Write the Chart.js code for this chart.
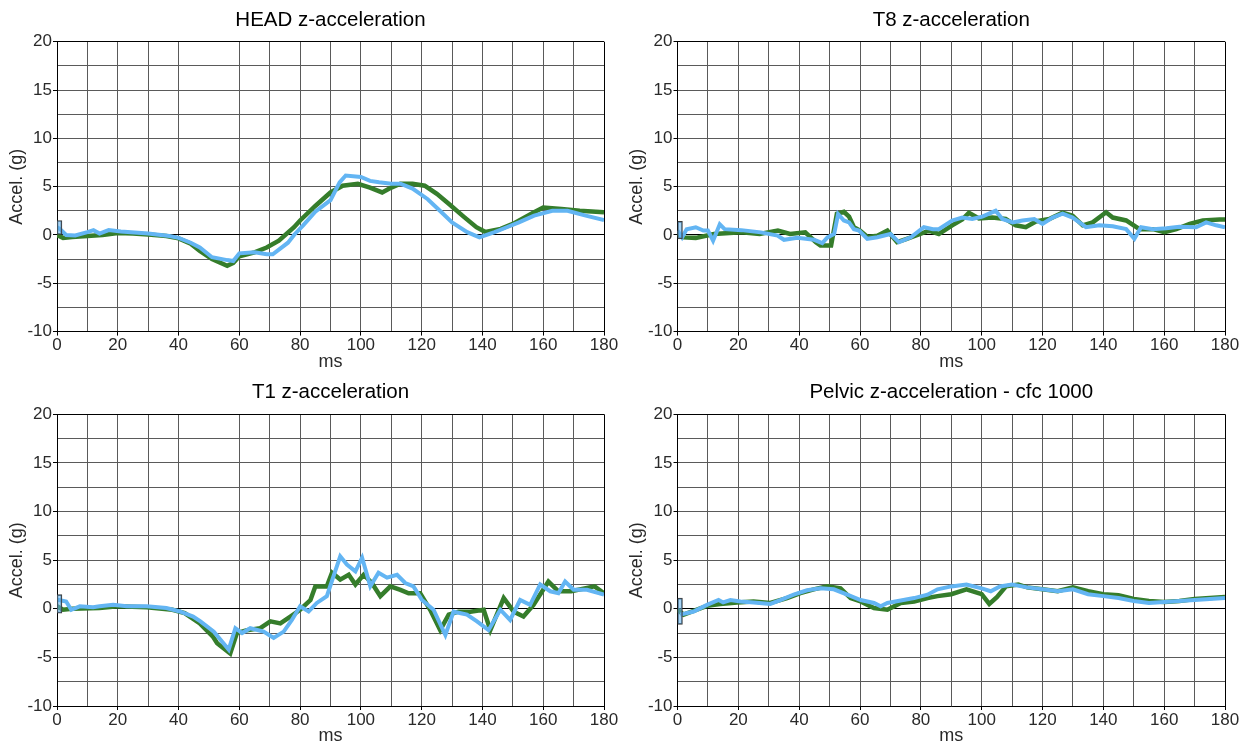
<!DOCTYPE html>
<html>
<head>
<meta charset="utf-8">
<script src="https://cdn.jsdelivr.net/npm/chart.js@4.4.1/dist/chart.umd.min.js"></script>
<style>
  html, body { margin: 0; padding: 0; background: #fff; }
  body { width: 1257px; height: 747px; position: relative; overflow: hidden; }
  canvas { position: absolute; }
</style>
</head>
<body>
<canvas id="head" width="620" height="373" style="left:0;top:0"></canvas>
<canvas id="t8" width="637" height="373" style="left:620px;top:0"></canvas>
<canvas id="t1" width="620" height="374" style="left:0;top:373px"></canvas>
<canvas id="pelvic" width="637" height="374" style="left:620px;top:373px"></canvas>
<script>
// ---- HEAD z-acceleration (ms, g) ----
const headGreenT = [0, 2, 5, 10, 15, 20, 25, 30, 36, 40, 44, 47, 51, 56, 58, 60, 65, 69, 73, 78, 80, 85, 90, 94, 99, 103, 107, 110, 113, 117, 121, 125, 129, 134, 138, 141, 146, 150, 157, 160, 166, 172, 180];
const headGreenV = [0.0, -0.3, -0.2, -0.1, 0.0, 0.2, 0.15, 0.05, -0.1, -0.35, -0.9, -1.65, -2.5, -3.2, -2.9, -2.2, -1.8, -1.3, -0.6, 0.8, 1.5, 3.0, 4.4, 5.1, 5.3, 4.9, 4.4, 4.9, 5.3, 5.3, 5.1, 4.25, 3.2, 1.85, 0.8, 0.3, 0.63, 1.15, 2.35, 2.85, 2.7, 2.5, 2.35];
const headBlueT = [0, 1, 3, 6, 10, 12, 14, 17, 21, 30, 37, 40, 44, 47, 51, 56, 58, 60, 65, 69, 71, 76, 78, 81, 85, 90, 93, 95, 100, 103, 106, 110, 113, 117, 122, 126, 130, 135, 139, 144, 148, 152, 157, 163, 168, 174, 180];
const headBlueV = [0.8, 0.6, 0.0, -0.05, 0.3, 0.5, 0.15, 0.5, 0.35, 0.15, -0.1, -0.3, -0.8, -1.3, -2.3, -2.6, -2.7, -1.9, -1.8, -2.0, -2.0, -0.8, 0.0, 1.0, 2.4, 3.6, 5.45, 6.15, 6.0, 5.6, 5.45, 5.3, 5.3, 4.8, 3.7, 2.5, 1.3, 0.29, -0.24, 0.29, 0.8, 1.3, 2.0, 2.5, 2.5, 2.0, 1.55];
const headStart = [0, 1.5];

// ---- T8 z-acceleration ----
const t8GreenT = [0, 2, 6, 12, 21, 27, 33, 37, 42, 45.5, 47, 50.5, 52.4, 54.7, 56.4, 58, 60, 62.5, 65.7, 69, 72.2, 75.4, 79.8, 82.6, 85.9, 90.3, 93.6, 95.8, 99.1, 103.5, 107.9, 111.2, 114.5, 117.8, 122.2, 126.6, 129.9, 133.2, 136.5, 140.9, 143.1, 147.5, 151.9, 156.3, 160.1, 164, 168.4, 172.7, 178.2, 180];
const t8GreenV = [0.1, -0.25, -0.3, 0.1, 0.27, 0.1, 0.45, 0.1, 0.27, -0.75, -1.1, -1.1, 2.2, 2.4, 1.9, 0.8, 0.45, -0.2, -0.07, 0.45, -0.75, -0.4, 0.1, 0.45, 0.1, 1.0, 1.6, 2.3, 1.7, 1.8, 1.65, 1.0, 0.8, 1.4, 1.65, 2.3, 2.0, 1.0, 1.3, 2.35, 1.8, 1.5, 0.6, 0.6, 0.3, 0.6, 1.15, 1.5, 1.6, 1.6];
const t8BlueT = [0, 1.5, 3, 6, 8.5, 10, 11.7, 13.9, 15.5, 21, 27.4, 32.9, 35, 39.4, 44.9, 47.6, 49.3, 51.5, 52.8, 54.7, 56.4, 58, 59.7, 62.4, 65.7, 70, 72.8, 76.7, 81, 84, 85.9, 90.3, 93.6, 96.9, 100.2, 104.6, 106.8, 110.2, 113.4, 117.3, 120, 123.3, 126.6, 129.9, 134.3, 138.7, 143.1, 147.5, 150.2, 152.4, 156.3, 160.7, 165, 170.5, 173.8, 177.1, 180];
const t8BlueV = [0.45, -0.25, 0.6, 0.8, 0.45, 0.45, -0.6, 1.1, 0.6, 0.5, 0.27, -0.07, -0.5, -0.3, -0.5, -0.85, -0.25, 0.1, 2.17, 1.5, 1.3, 0.6, 0.45, -0.4, -0.24, 0.1, -0.75, -0.24, 0.8, 0.6, 0.6, 1.5, 1.8, 1.65, 1.9, 2.5, 1.65, 1.3, 1.5, 1.65, 1.15, 1.8, 2.2, 1.8, 0.8, 1.0, 0.9, 0.6, -0.4, 0.8, 0.6, 0.7, 0.85, 0.8, 1.3, 1.0, 0.8];
const t8Start = [-0.4, 1.4];

// ---- T1 z-acceleration ----
const t1GreenT = [0, 2, 5, 14, 20, 29.5, 38, 42, 47, 51.4, 52.7, 57, 59.2, 62.5, 66.9, 70.2, 73.5, 76.8, 80, 83.4, 85, 88.8, 90.5, 93.2, 96, 98.2, 100.9, 103.6, 106.4, 109.7, 113, 115.7, 119.5, 122.8, 126.1, 128.9, 132.1, 136, 140.4, 142.6, 147, 150.3, 153.5, 156.8, 161.7, 165, 169.2, 176.9, 180];
const t1GreenV = [0.25, -0.1, 0.0, 0.07, 0.25, 0.15, -0.1, -0.45, -1.5, -2.9, -3.55, -4.6, -2.5, -2.2, -2.0, -1.3, -1.5, -0.8, -0.1, 0.9, 2.3, 2.3, 3.7, 3.0, 3.5, 2.5, 3.5, 2.65, 1.3, 2.3, 1.95, 1.6, 1.6, -0.1, -2.2, -0.6, -0.3, -0.3, -0.1, -2.2, 1.1, -0.3, -0.8, 0.4, 2.8, 1.8, 1.8, 2.3, 1.6];
const t1BlueT = [0, 0.7, 3, 4.7, 7.5, 11.9, 14, 18.5, 22.9, 29.5, 36, 40.4, 44.8, 47.2, 51.6, 56.5, 58.7, 60.9, 63.6, 68, 71.3, 74.6, 77.3, 80, 82.8, 85.5, 88.8, 91, 93.2, 95.4, 98.2, 100.4, 103.1, 105.8, 108.6, 111.9, 114.6, 117.3, 120.1, 123.9, 127.8, 130.5, 134.9, 138.2, 142, 145.9, 149.1, 152.4, 155.7, 159, 162.3, 165, 167.2, 170, 174.4, 180];
const t1BlueV = [0.9, 0.9, 0.75, -0.1, 0.25, 0.15, 0.25, 0.4, 0.25, 0.25, 0.07, -0.28, -0.8, -1.3, -2.35, -4.2, -2.0, -2.5, -2.0, -2.35, -3.0, -2.35, -1.15, 0.25, -0.28, 0.6, 1.3, 3.35, 5.4, 4.55, 3.85, 5.25, 2.3, 3.7, 3.2, 3.5, 2.65, 2.3, 0.9, -0.1, -2.7, -0.3, -0.6, -1.3, -2.2, -0.1, -1.15, 0.9, 0.4, 2.5, 1.8, 1.6, 2.8, 1.95, 1.95, 1.45];
const t1Start = [-0.45, 1.45];

// ---- Pelvic z-acceleration, CFC 1000 ----
const pelvicGreenT = [0, 2, 6.4, 9.7, 14, 19.6, 25, 30.5, 36, 40.4, 44.8, 49.2, 53.6, 56.9, 60.2, 64.6, 69, 73.4, 77.8, 82.2, 85.5, 90, 95, 100, 102.5, 105, 108, 112, 115, 120, 125, 130, 135, 140, 145, 150, 155, 160, 165, 170, 175, 180];
const pelvicGreenV = [-0.1, -0.6, -0.1, 0.3, 0.5, 0.65, 0.75, 0.6, 1.1, 1.6, 2.0, 2.3, 2.1, 1.1, 0.75, 0.07, -0.1, 0.6, 0.75, 1.1, 1.3, 1.5, 2.0, 1.5, 0.5, 1.2, 2.3, 2.5, 2.2, 2.0, 1.8, 2.2, 1.8, 1.5, 1.4, 1.0, 0.8, 0.7, 0.8, 1.0, 1.1, 1.2];
const pelvicBlueT = [0.9, 5.3, 9.7, 13.5, 15, 17.4, 20.7, 25, 30.5, 33.8, 38.2, 42.6, 47, 51.4, 55.8, 60.2, 64.6, 66.8, 69, 73.4, 77.8, 82.2, 85.5, 90, 95, 100, 103, 106, 110, 115, 120, 125, 130, 135, 140, 145, 150, 155, 160, 165, 170, 175, 180];
const pelvicBlueV = [-0.6, -0.28, 0.4, 0.9, 0.65, 0.9, 0.75, 0.65, 0.5, 0.9, 1.45, 1.9, 2.1, 2.0, 1.45, 0.9, 0.6, 0.25, 0.6, 0.85, 1.1, 1.45, 2.0, 2.3, 2.5, 2.1, 1.8, 2.3, 2.5, 2.2, 2.0, 1.8, 2.0, 1.5, 1.3, 1.1, 0.8, 0.6, 0.7, 0.8, 0.9, 1.0, 1.1];
const pelvicStart = [-1.6, 1.1];

// ---- axes ----
const xRange = [0, 180];
const xStep = 10;
const xLabelEvery = 20;
const yRange = [-10, 20];
const yStep = 2.5;
const yLabelEvery = 5;
const startTime = 0.8;

const GREEN = '#357d2b';
const BLUE = '#63b5f3';
const GRID = '#5a5a5a';
const TEXT = '#2a2a2a';
const FONT = '"Liberation Sans", Arial, sans-serif';

function pts(t, v) {
  return t.map((x, i) => ({ x: x, y: v[i] }));
}

function makePanel(id, cfg) {
  const ctxEl = document.getElementById(id);
  const W = ctxEl.width, H = ctxEl.height;
  new Chart(ctxEl, {
    type: 'line',
    data: {
      datasets: [
        {
          type: 'bar',
          label: 'start',
          data: [{ x: startTime, y: cfg.start }],
          backgroundColor: 'rgba(99,181,243,0.55)',
          borderColor: '#3a3a3a',
          borderWidth: 1,
          borderSkipped: false,
          barThickness: 5,
          order: 0
        },
        {
          label: 'B',
          data: pts(cfg.blueT, cfg.blueV),
          borderColor: BLUE,
          borderWidth: 4,
          pointRadius: 0,
          tension: 0,
          order: 1
        },
        {
          label: 'A',
          data: pts(cfg.greenT, cfg.greenV),
          borderColor: GREEN,
          borderWidth: 4.5,
          pointRadius: 0,
          tension: 0,
          order: 2
        }
      ]
    },
    options: {
      responsive: false,
      animation: false,
      devicePixelRatio: 1,
      layout: { padding: { left: 0, top: 0, right: W - cfg.right, bottom: 0 } },
      plugins: {
        legend: { display: false },
        tooltip: { enabled: false },
        title: {
          display: true,
          fullSize: false,
          text: cfg.title,
          color: '#000',
          font: { family: FONT, size: 20.5, weight: 'normal', lineHeight: 1.2 },
          padding: { top: cfg.titlePad, bottom: cfg.top - 24.6 - cfg.titlePad }
        }
      },
      scales: {
        x: {
          type: 'linear',
          min: xRange[0], max: xRange[1],
          offset: false,
          afterFit: (s) => { s.height = H - cfg.bottom; },
          ticks: {
            stepSize: xStep,
            autoSkip: false,
            maxRotation: 0,
            padding: 0,
            color: TEXT,
            font: { family: FONT, size: 17 },
            callback: (v) => (v % xLabelEvery === 0 ? String(v) : '')
          },
          grid: {
            offset: false,
            tickLength: 4,
            color: (c) => {
              const v = c.tick && c.tick.value;
              if (v === xRange[1]) return '#000';
              if (cfg.skip50 && v === 50) return 'rgba(0,0,0,0)';
              return GRID;
            },
            tickColor: (c) => (c.tick && c.tick.value % xLabelEvery === 0 ? '#000' : 'rgba(0,0,0,0)')
          },
          border: { color: '#000', width: 1 },
          title: {
            display: true, text: 'ms', color: TEXT,
            font: { family: FONT, size: 18, lineHeight: 1.2 },
            padding: { top: 0, bottom: 0 }
          }
        },
        y: {
          min: yRange[0], max: yRange[1],
          afterFit: (s) => { s.width = cfg.left; },
          ticks: {
            stepSize: yStep,
            autoSkip: false,
            padding: 1,
            color: TEXT,
            font: { family: FONT, size: 17 },
            callback: (v) => (v % yLabelEvery === 0 ? String(v) : '')
          },
          grid: {
            offset: false,
            tickLength: 4,
            color: (c) => {
              const v = c.tick && c.tick.value;
              if (v === 0 || v === yRange[1]) return '#000';
              return GRID;
            },
            tickColor: (c) => (c.tick && c.tick.value % yLabelEvery === 0 ? '#000' : 'rgba(0,0,0,0)')
          },
          border: { color: '#000', width: 1 },
          title: {
            display: true, text: 'Accel. (g)', color: TEXT,
            font: { family: FONT, size: 18, lineHeight: 1.2 },
            padding: { top: 6.5, bottom: 0 }
          }
        }
      }
    }
  });
}

makePanel('head', {
  title: 'HEAD z-acceleration',
  greenT: headGreenT, greenV: headGreenV, blueT: headBlueT, blueV: headBlueV, start: headStart,
  left: 57, right: 604, top: 41.7, bottom: 331.6, titlePad: 8.3, skip50: true
});
makePanel('t8', {
  title: 'T8 z-acceleration',
  greenT: t8GreenT, greenV: t8GreenV, blueT: t8BlueT, blueV: t8BlueV, start: t8Start,
  left: 57.5, right: 605, top: 41.7, bottom: 331.6, titlePad: 8.3, skip50: false
});
makePanel('t1', {
  title: 'T1 z-acceleration',
  greenT: t1GreenT, greenV: t1GreenV, blueT: t1BlueT, blueV: t1BlueV, start: t1Start,
  left: 57, right: 604, top: 41.3, bottom: 333, titlePad: 7.5, skip50: true
});
makePanel('pelvic', {
  title: 'Pelvic z-acceleration - cfc 1000',
  greenT: pelvicGreenT, greenV: pelvicGreenV, blueT: pelvicBlueT, blueV: pelvicBlueV, start: pelvicStart,
  left: 57.5, right: 605, top: 41.3, bottom: 333, titlePad: 7.5, skip50: false
});
</script>
</body>
</html>
